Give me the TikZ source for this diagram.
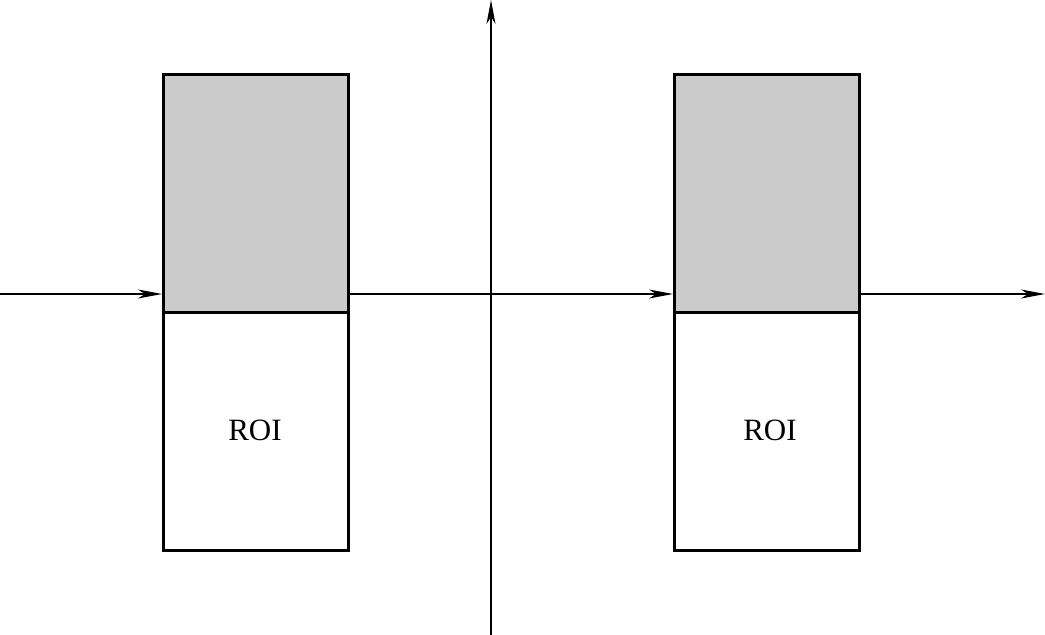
\documentclass[tikz,border=0pt]{standalone}
\usepackage{fontspec}
\setmainfont{Liberation Serif}
\usetikzlibrary{arrows.meta,calc}
\definecolor{RoiGray}{HTML}{CBCBCB}

\begin{document}
\begin{tikzpicture}[x=1pt,y=-1pt,>={Stealth[length=24pt,width=9pt,inset=7pt]},
  axis/.style={line width=1.2pt},
  half/.style={draw,line width=2.8pt,minimum width=185pt,minimum height=238pt,inner sep=0pt,anchor=north west}]
  \useasboundingbox (0,0) rectangle (1045,635);
  % two boxes, shaded upper half
  \node[half,fill=RoiGray] (gL) at (162,73) {};
  \node[half] (wL) at (162,311) {};
  \node[half,fill=RoiGray] (gR) at (673,73) {};
  \node[half] (wR) at (673,311) {};
  \node[font=\fontsize{31}{33}\selectfont] (tL) at (255,430) {ROI};
  \node[font=\fontsize{31}{33}\selectfont] (tR) at (770,430) {ROI};
  % axes
  \coordinate (in) at (0,294);
  \coordinate (out) at (1045,294);
  \coordinate (yb) at (491,635);
  \coordinate (yt) at (491,0);
  \draw[->,axis] (in) -- (in -| gL.west);
  \draw[->,axis] (in -| gL.east) -- (in -| gR.west);
  \draw[->,axis] (in -| gR.east) -- (out);
  \draw[->,axis] (yb) -- (yt);
\end{tikzpicture}
\end{document}
